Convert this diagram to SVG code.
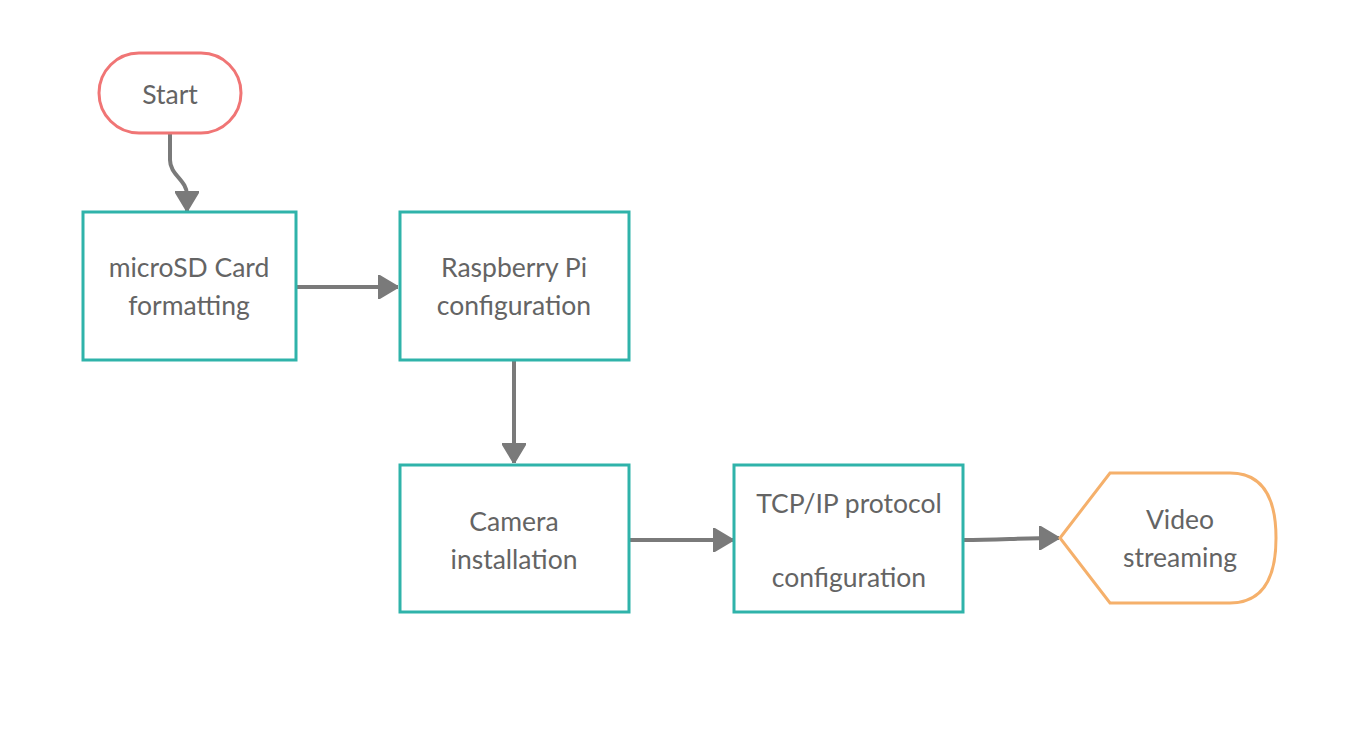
<svg xmlns="http://www.w3.org/2000/svg" width="1370" height="750" viewBox="0 0 1370 750">
<style>
.box{fill:#fff;stroke:#2fb3aa;stroke-width:3}
.t{font-family:Lato,"Liberation Sans",sans-serif;font-size:26.5px;fill:#646464;text-anchor:middle}
.c{fill:none;stroke:#7a7a7a;stroke-width:4}
</style>
<defs>
<marker id="ah" viewBox="0 0 20 24" refX="20" refY="12" markerWidth="20" markerHeight="24" markerUnits="userSpaceOnUse" orient="auto">
<path d="M0,0 L20,12 L0,24 Z" fill="#7a7a7a" stroke="#7a7a7a" stroke-width="2" stroke-linejoin="round"/>
</marker>
</defs>
<rect width="1370" height="750" fill="#fff"/>
<g id="connectors">
<path class="c" d="M170,133 L170,160 C170,175 187,180 187,195 L187,211" marker-end="url(#ah)"/>
<path class="c" d="M296,287 L398,287" marker-end="url(#ah)"/>
<path class="c" d="M514,360 L514,463" marker-end="url(#ah)"/>
<path class="c" d="M629,540 L733,540" marker-end="url(#ah)"/>
<path class="c" d="M963,540 C1000,540 1020,538 1059,538" marker-end="url(#ah)"/>
</g>
<g id="start">
<rect x="99" y="53" width="142" height="80" rx="40" fill="#fff" stroke="#f07575" stroke-width="3"/>
<text class="t" x="170" y="104">Start</text>
</g>
<g id="microsd">
<rect class="box" x="83" y="212" width="213" height="148"/>
<text class="t" x="189" y="277">microSD Card</text>
<text class="t" x="189" y="315">formatting</text>
</g>
<g id="raspberry">
<rect class="box" x="400" y="212" width="229" height="148"/>
<text class="t" x="514" y="277">Raspberry Pi</text>
<text class="t" x="514" y="315">configuration</text>
</g>
<g id="camera">
<rect class="box" x="400" y="465" width="229" height="147"/>
<text class="t" x="514" y="531">Camera</text>
<text class="t" x="514" y="569">installation</text>
</g>
<g id="tcpip">
<rect class="box" x="734" y="465" width="229" height="147"/>
<text class="t" x="849" y="513">TCP/IP protocol</text>
<text class="t" x="849" y="587">configuration</text>
</g>
<g id="video">
<path d="M1060,538 L1110,473 L1230,473 Q1276,473 1276,538 Q1276,603 1230,603 L1110,603 Z" fill="#fff" stroke="#f5b06b" stroke-width="3" stroke-linejoin="miter"/>
<text class="t" x="1180" y="529">Video</text>
<text class="t" x="1180" y="567">streaming</text>
</g>
</svg>
